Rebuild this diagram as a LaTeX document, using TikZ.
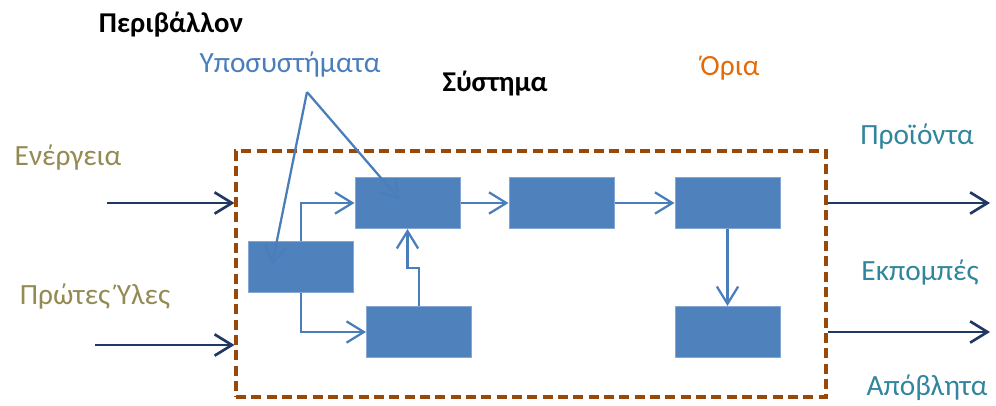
\documentclass[tikz,border=0pt]{standalone}
\usepackage{fontspec}
\setmainfont{Carlito}
\usetikzlibrary{arrows.meta,positioning}
\definecolor{boxblue}{HTML}{4F81BD}
\definecolor{linkblue}{HTML}{4A7EBB}
\definecolor{flownavy}{HTML}{1F3864}
\definecolor{edgerust}{HTML}{984807}
\definecolor{inolive}{HTML}{948A54}
\definecolor{outteal}{HTML}{31859C}
\definecolor{edgeorange}{HTML}{E36C09}

\begin{document}
\begin{tikzpicture}[
  x=0.75pt,y=-0.75pt,
  font=\fontsize{22}{26}\selectfont,
  sub/.style={draw=boxblue!70!white,line width=0.5pt,fill=boxblue,minimum width=79pt,minimum height=38.5pt,inner sep=0pt},
  bound/.style={draw=edgerust,line width=2.3pt,dash pattern=on 7.5pt off 4pt,minimum width=442.5pt,minimum height=184.5pt},
  link/.style={-{Straight Barb[length=13pt,width=16pt]},line width=1.7pt,color=linkblue},
  flow/.style={-{Straight Barb[length=13pt,width=16pt]},line width=2pt,color=flownavy},
  title/.style={font=\fontsize{21.5}{26}\selectfont\bfseries}
]
\useasboundingbox (0,0) rectangle (996,405);

% system boundary
\node[bound] (sys) at (531,274) {};

% subsystems
\node[sub] (s1) at (301,267) {};
\node[sub] (s2) at (407.5,203) {};
\node[sub,right=36pt of s2] (s3) {};
\node[sub,right=45pt of s3] (s4) {};
\node[sub] (s5) at (419,332) {};
\node[sub,below=57.75pt of s4] (s6) {};

% labels
\node[title] (env) at (171,25) {Περιβάλλον};
\node[title] (sysname) at (495,84) {Σύστημα};
\node[text=linkblue] (subname) at (290,65) {Υποσυστήματα};
\node[text=edgeorange] (edge) at (730,68) {Όρια};
\node[text=inolive] (energy) at (68,158) {Ενέργεια};
\node[text=inolive] (raw) at (95,297) {Πρώτες Ύλες};
\node[text=outteal] (prod) at (917,137) {Προϊόντα};
\node[text=outteal] (emis) at (920,273) {Εκπομπές};
\node[text=outteal] (waste) at (927,388) {Απόβλητα};

% callout from the subsystems label
\coordinate (apex) at (307,92);
\coordinate (tip1) at (272,265);
\coordinate (tip2) at (400,200);
\draw[link] (apex) -- (tip1);
\draw[link] (apex) -- (tip2);

% links between subsystems
\draw[link] (s1.north) |- (s2.west);
\draw[link] (s1.south) |- (s5.west);
\draw[link] (s5.north) -- ++(0,-38) -| (s2.south);
\draw[link] (s2) -- (s3);
\draw[link] (s3) -- (s4);
\draw[link] (s4) -- (s6);

% inputs and outputs
\coordinate (in1) at (107,203);
\coordinate (in2) at (95,345);
\coordinate (out1) at (990,203);
\coordinate (out2) at (990,332);
\draw[flow] (in1) -- (in1 -| sys.west);
\draw[flow] (in2) -- (in2 -| sys.west);
\draw[flow] (out1 -| sys.east) -- (out1);
\draw[flow] (out2 -| sys.east) -- (out2);
\end{tikzpicture}
\end{document}
